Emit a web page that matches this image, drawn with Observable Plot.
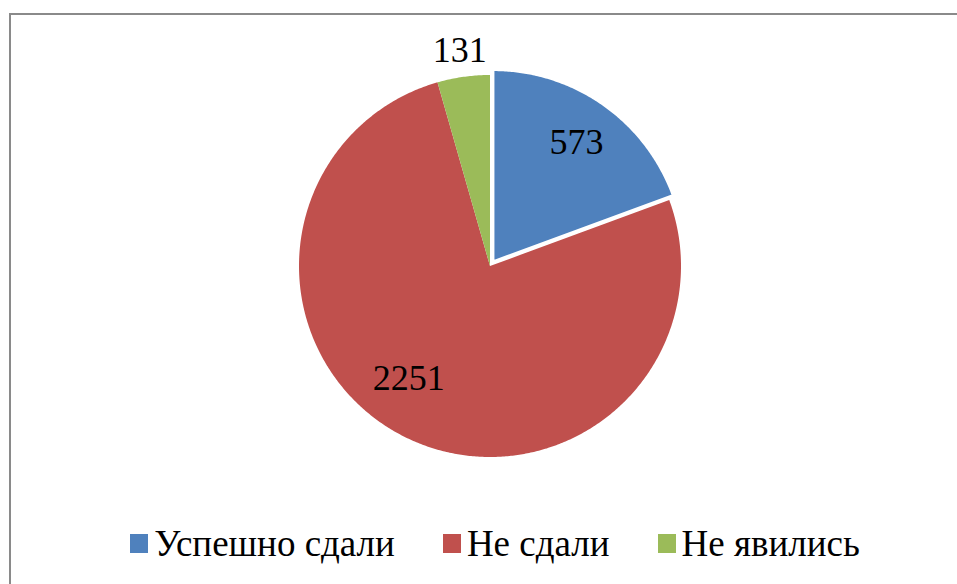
<!DOCTYPE html>
<html>
<head>
<meta charset="utf-8">
<script src="https://cdn.jsdelivr.net/npm/d3@7"></script>
<script src="https://cdn.jsdelivr.net/npm/@observablehq/plot@0.6"></script>
<style>
  html, body { margin: 0; padding: 0; background: #fff; overflow: hidden; }
  #wrap { position: relative; width: 957px; height: 584px; }
  #frame { position: absolute; left: 9px; top: 13px; width: 1000px; height: 700px;
           border-left: 2px solid #8a8a8a; border-top: 2px solid #8a8a8a; box-sizing: border-box; }
  #legend { position: absolute; left: 0; top: 522px; width: 990px; display: flex; justify-content: center; color: #000; }
  .item { display: flex; align-items: center; margin: 0 24px; }
  .sw { width: 18px; height: 19px; margin-right: 6px; }
  #chart { position: absolute; left: 0; top: 0; }
</style>
</head>
<body>
<div id="wrap">
  <div id="frame"></div>
  <div id="chart"></div>
  <div id="legend" style="font-family: 'Liberation Serif', 'Times New Roman', serif; font-size: 37px;"></div>
</div>
<script>
const categories = ["Успешно сдали", "Не сдали", "Не явились"];
const values = [573, 2251, 131];
const colors = ["#4F81BD", "#C0504D", "#9BBB59"];

const R = 191, cx = 489.5, cy = 265.5;
const explode = [6 / R, 0, 0];
const FONT = "'Liberation Serif', 'Times New Roman', serif";

const pie = d3.pie().sort(null).value(d => d.value)(categories.map((name, i) => ({name, value: values[i], i})));

const pts = [];
pie.forEach(p => {
  const i = p.data.i;
  const mid = (p.startAngle + p.endAngle) / 2;
  const ox = explode[i] * Math.sin(mid), oy = explode[i] * Math.cos(mid);
  pts.push({name: p.data.name, x: ox, y: oy});
  const n = Math.max(2, Math.ceil((p.endAngle - p.startAngle) / (Math.PI / 360)));
  for (let k = 0; k <= n; k++) {
    const a = p.startAngle + (p.endAngle - p.startAngle) * k / n;
    pts.push({name: p.data.name, x: ox + Math.sin(a), y: oy + Math.cos(a)});
  }
});

const labelR = [0.76, 0.73, 1.14];
const labels = pie.map(p => {
  const i = p.data.i;
  const mid = (p.startAngle + p.endAngle) / 2;
  return {name: p.data.name, value: p.data.value, x: (labelR[i] + explode[i]) * Math.sin(mid), y: (labelR[i] + explode[i]) * Math.cos(mid)};
});

const W = 957, H = 584;
const chart = Plot.plot({
  width: W, height: H,
  margin: 0,
  x: {domain: [-1, 1], range: [cx - R, cx + R], axis: null},
  y: {domain: [-1, 1], range: [cy + R, cy - R], axis: null},
  color: {domain: categories, range: colors},
  style: {background: "transparent", overflow: "visible", fontFamily: FONT},
  marks: [
    Plot.line(pts.filter(d => d.name !== categories[0]), {x: "x", y: "y", z: "name", fill: "name", stroke: "none", curve: "linear-closed"}),
    Plot.line(pts.filter(d => d.name === categories[0]), {x: "x", y: "y", z: "name", fill: "name", stroke: "white", strokeWidth: 2, curve: "linear-closed"}),
    Plot.text(labels.filter(d => d.name !== categories[1]), {x: "x", y: "y", text: d => String(d.value), fontSize: 36, fontFamily: FONT, fill: "black"}),
    Plot.text(labels.filter(d => d.name === categories[1]), {x: "x", y: "y", text: d => String(d.value), fontSize: 36, fontFamily: FONT, fill: "black", dx: -18, dy: -12})
  ]
});
document.getElementById("chart").appendChild(chart);

const legend = document.getElementById("legend");
categories.forEach((c, i) => {
  const it = document.createElement("div");
  it.className = "item";
  const sw = document.createElement("div");
  sw.className = "sw";
  sw.style.background = colors[i];
  const t = document.createElement("span");
  t.textContent = c;
  it.appendChild(sw); it.appendChild(t);
  legend.appendChild(it);
});
</script>
</body>
</html>
